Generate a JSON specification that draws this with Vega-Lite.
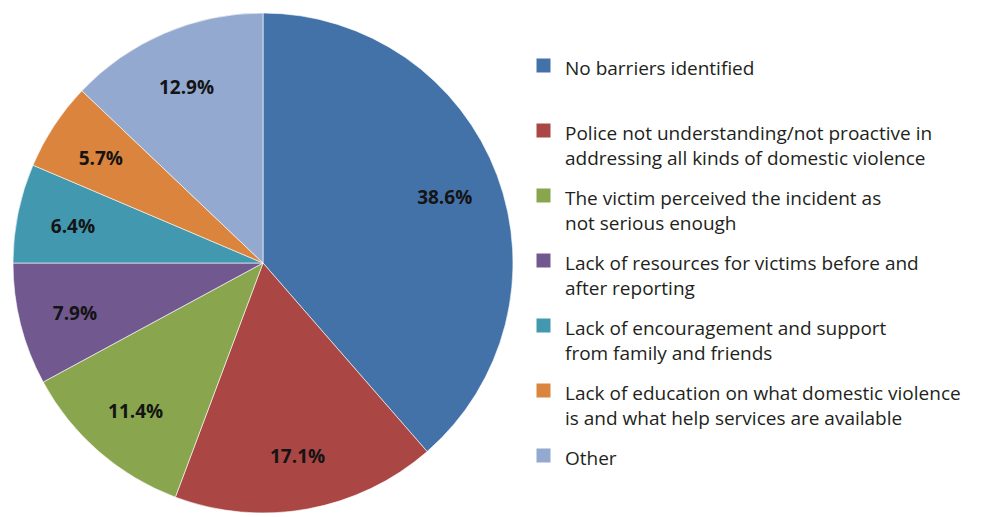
{
  "$schema": "https://vega.github.io/schema/vega-lite/v6.json",
  "width": 526,
  "height": 526,
  "padding": 0,
  "autosize": {"type": "pad"},
  "background": "white",
  "config": {
    "view": {"stroke": null},
    "style": {"guide-label": {"lineHeight": 25, "dy": -6}}
  },
  "data": {
    "values": [
      {"barrier": "No barriers identified", "share": 0.386},
      {"barrier": "Police not understanding/not proactive in\naddressing all kinds of domestic violence", "share": 0.171},
      {"barrier": "The victim perceived the incident as\nnot serious enough", "share": 0.114},
      {"barrier": "Lack of resources for victims before and\nafter reporting", "share": 0.079},
      {"barrier": "Lack of encouragement and support\nfrom family and friends", "share": 0.064},
      {"barrier": "Lack of education on what domestic violence\nis and what help services are available", "share": 0.057},
      {"barrier": "Other", "share": 0.129}
    ]
  },
  "transform": [{"window": [{"op": "row_number", "as": "slice_order"}]}],
  "encoding": {
    "theta": {"field": "share", "type": "quantitative", "stack": true},
    "order": {"field": "slice_order", "type": "quantitative"}
  },
  "layer": [
    {
      "mark": {"type": "arc", "outerRadius": 250, "stroke": "#ffffff", "strokeWidth": 0.6},
      "encoding": {
        "color": {
          "field": "barrier",
          "type": "nominal",
          "scale": {
            "domain": [
              "No barriers identified",
              "Police not understanding/not proactive in\naddressing all kinds of domestic violence",
              "The victim perceived the incident as\nnot serious enough",
              "Lack of resources for victims before and\nafter reporting",
              "Lack of encouragement and support\nfrom family and friends",
              "Lack of education on what domestic violence\nis and what help services are available",
              "Other"
            ],
            "range": ["#4372A8", "#AA4644", "#89A54E", "#71588F", "#4198AF", "#DB843D", "#93A9CF"]
          },
          "legend": {
            "orient": "none",
            "legendX": 534,
            "legendY": 56,
            "title": null,
            "padding": 0,
            "symbolType": "square",
            "symbolSize": 196,
            "symbolStrokeWidth": 0,
            "labelFont": "Open Sans",
            "labelFontSize": 19,
            "labelColor": "#231f20",
            "labelOffset": 12,
            "labelLimit": 0,
            "labelBaseline": "top",
            "rowPadding": 17,
            "gridAlign": "all",
            "labelExpr": "split(datum.label, '\\n')"
          }
        },
        "tooltip": [
          {"field": "barrier", "type": "nominal", "title": "Barrier"},
          {"field": "share", "type": "quantitative", "format": ".1%", "title": "Share"}
        ]
      }
    },
    {
      "mark": {"type": "text", "radius": 194, "font": "Open Sans", "fontWeight": "bold", "fontSize": 19, "dy": 3, "color": "#141414"},
      "encoding": {
        "text": {"field": "share", "type": "quantitative", "format": ".1%"}
      }
    }
  ]
}
